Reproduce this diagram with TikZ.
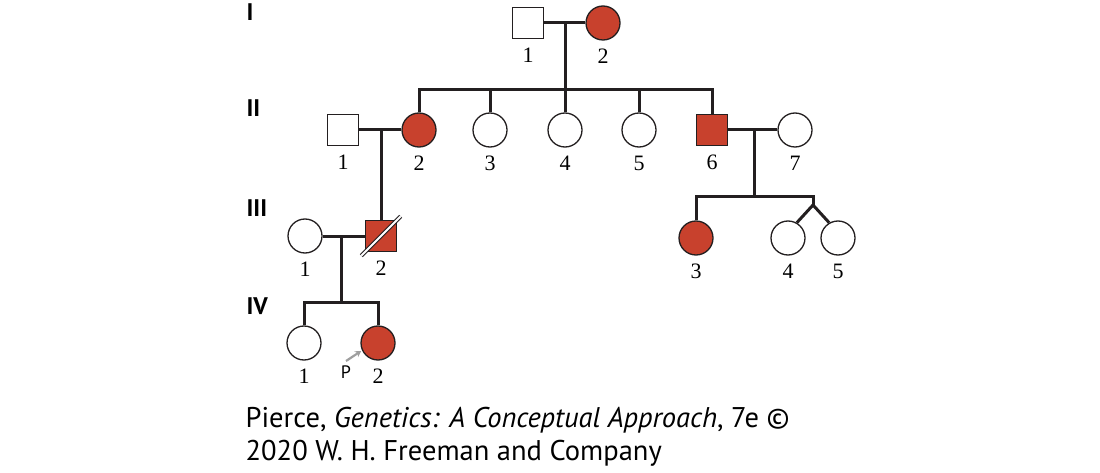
\documentclass[tikz,border=0pt]{standalone}
\usepackage{fontspec}
\setmainfont{Liberation Serif}
\setsansfont{PT Sans}
\usetikzlibrary{arrows.meta}
\definecolor{affred}{RGB}{200,65,45}
\definecolor{pedline}{RGB}{35,31,32}
\begin{document}
\begin{tikzpicture}[x=1pt,y=-1pt,
  line width=1.3pt, draw=pedline,
  male/.style={draw=pedline, fill=white, rectangle, minimum size=31pt, inner sep=0pt},
  female/.style={draw=pedline, fill=white, circle, minimum size=34pt, inner sep=0pt},
  aff/.style={fill=affred},
  num/.style={font=\fontsize{22}{22}\selectfont, inner sep=0pt},
  label distance=8pt,
  gen/.style={font=\sffamily\bfseries\fontsize{24}{24}\selectfont, anchor=west, inner sep=0pt},
  link/.style={line width=3pt, pedline},
  deceased/.style={line width=1pt, pedline, double=white, double distance=2pt, shorten <=-5pt, shorten >=-5pt},
  proband/.style={line width=2.2pt, gray!75, -{Stealth[length=6pt,width=7pt]}, shorten >=1pt}]
\useasboundingbox (0,0) rectangle (1100,473);
%%% generation labels
\node[gen] (gI) at (246,12) {I};
\node[gen] (gII) at (246,108) {II};
\node[gen] (gIII) at (246,208) {III};
\node[gen] (gIV) at (246,306) {IV};
%%% generation I
\node[male] (i1) at (528,23) [label={[num]below:1}] {};
\node[female,aff] (i2) at (603,23) [label={[num]below:2}] {};
\coordinate (m1) at (565,23);
\coordinate (s1) at (565,90);
%%% generation II
\node[male] (ii1) at (343,130) [label={[num]below:1}] {};
\node[female,aff] (ii2) at (419,130) [label={[num]below:2}] {};
\node[female] (ii3) at (490,130) [label={[num]below:3}] {};
\node[female] (ii4) at (565,130) [label={[num]below:4}] {};
\node[female] (ii5) at (639,130) [label={[num]below:5}] {};
\node[male,aff] (ii6) at (712,130) [label={[num]below:6}] {};
\node[female] (ii7) at (795,130) [label={[num]below:7}] {};
\coordinate (m2) at (381,130);
\coordinate (m6) at (754,130);
\coordinate (s6) at (754,197);
\coordinate (tw) at (813,205);
%%% generation III
\node[female] (iii1) at (305,236) [label={[num]below:1}] {};
\node[male,aff] (iii2) at (381,236) [label={[num]below:2}] {};
\node[female,aff] (iii3) at (696,238) [label={[num]below:3}] {};
\node[female] (iii4) at (788,238) [label={[num]below:4}] {};
\node[female] (iii5) at (838,238) [label={[num]below:5}] {};
\coordinate (m3) at (341,236);
\coordinate (s3) at (341,302);
%%% generation IV
\node[female] (iv1) at (304,343) [label={[num]below:1}] {};
\node[female,aff] (iv2) at (378,343) [label={[num]below:2}] {};
\coordinate (pa) at (346,361);
\node[font=\sffamily\fontsize{18}{18}\selectfont, inner sep=0pt] (p) at (346,372) {P};
%%% matings and descent
\draw[link] (i1.east) -- (i2.west);
\draw[link] (m1) -- (s1);
\draw[link] (ii2.north) -- (ii2 |- s1) -- (ii6 |- s1) -- (ii6.north);
\draw[link] (ii3.north) -- (ii3 |- s1);
\draw[link] (ii4.north) -- (ii4 |- s1);
\draw[link] (ii5.north) -- (ii5 |- s1);
\draw[link] (ii1.east) -- (ii2.west);
\draw[link] (m2) -- (iii2.north);
\draw[link] (ii6.east) -- (ii7.west);
\draw[link] (m6) -- (s6);
\draw[link] (iii3.north) -- (iii3 |- s6) -- (tw |- s6) -- (tw);
\draw[link] (tw) -- (iii4.60);
\draw[link] (tw) -- (iii5.120);
\draw[link] (iii1.east) -- (iii2.west);
\draw[link] (m3) -- (s3);
\draw[link] (iv1.north) -- (iv1 |- s3) -- (iv2 |- s3) -- (iv2.north);
\draw[deceased] (iii2.south west) -- (iii2.north east);
\draw[proband] (pa) -- (iv2.205);
%%% caption
\node[font=\sffamily\fontsize{28.5}{33}\selectfont, anchor=base west, inner sep=0pt] (cap1) at (245,427) {Pierce, \textit{Genetics: A Conceptual Approach}, 7e ©};
\node[font=\sffamily\fontsize{28.5}{33}\selectfont, anchor=base west, inner sep=0pt] (cap2) at (245,460) {2020 W. H. Freeman and Company};
\end{tikzpicture}
\end{document}
